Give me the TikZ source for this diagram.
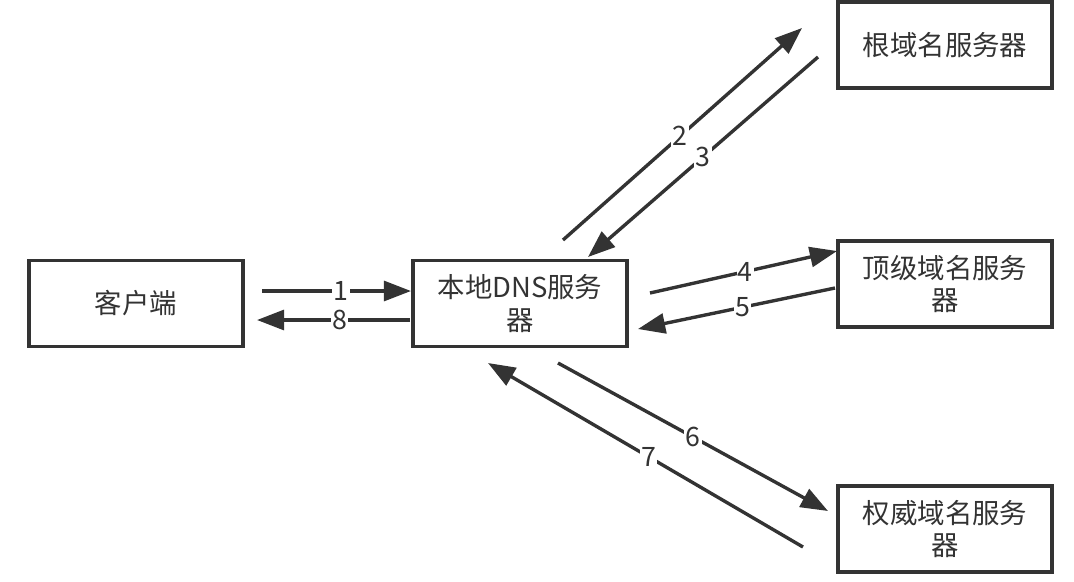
\documentclass[tikz,border=0pt]{standalone}
\usepackage{fontspec}
\setmainfont{Noto Sans CJK SC}
\usetikzlibrary{arrows.meta}
\definecolor{ink}{HTML}{333333}

\begin{document}
\begin{tikzpicture}[x=0.025cm, y=-0.025cm,
  server/.style={draw=ink, line width=2.4pt, minimum width=5.35cm, minimum height=2.15cm,
    align=center, text=ink, font=\fontsize{19.5}{23}\selectfont},
  msg/.style={draw=ink, line width=2.4pt, -{Triangle[length=0.68cm, width=0.5cm]}},
  num/.style={fill=white, inner sep=1pt, text=ink, font=\fontsize{19}{19}\selectfont}]
\useasboundingbox (0,0) rectangle (1074,581);
% boxes
\node[server] (client) at (136,303.5) {客户端};
\node[server] (local)  at (520,303.5) {本地DNS服务\\器};
\node[server] (root)   at (945,45)    {根域名服务器};
\node[server] (tld)    at (945,284)   {顶级域名服务\\器};
\node[server] (auth)   at (945,529)   {权威域名服务\\器};
% arrow ends
\coordinate (A1) at (262,291);  \coordinate (B1) at (411,291);
\coordinate (A8) at (410,320);  \coordinate (B8) at (257,320);
\coordinate (A2) at (563,240);  \coordinate (B2) at (802,28);
\coordinate (A3) at (818,57);   \coordinate (B3) at (588,257);
\coordinate (A4) at (650,293);  \coordinate (B4) at (837,251);
\coordinate (A5) at (835,288);  \coordinate (B5) at (638,329);
\coordinate (A6) at (558,363);  \coordinate (B6) at (828,511);
\coordinate (A7) at (803,547);  \coordinate (B7) at (488,363);
% messages
\draw[msg] (A1) -- (B1) node[num, pos=0.53] {1};
\draw[msg] (A8) -- (B8) node[num, pos=0.46] {8};
\draw[msg] (A2) -- (B2) node[num, pos=0.49] {2};
\draw[msg] (A3) -- (B3) node[num, pos=0.5] {3};
\draw[msg] (A4) -- (B4) node[num, pos=0.51] {4};
\draw[msg] (A5) -- (B5) node[num, pos=0.47] {5};
\draw[msg] (A6) -- (B6) node[num, pos=0.5] {6};
\draw[msg] (A7) -- (B7) node[num, pos=0.49] {7};
\end{tikzpicture}
\end{document}
